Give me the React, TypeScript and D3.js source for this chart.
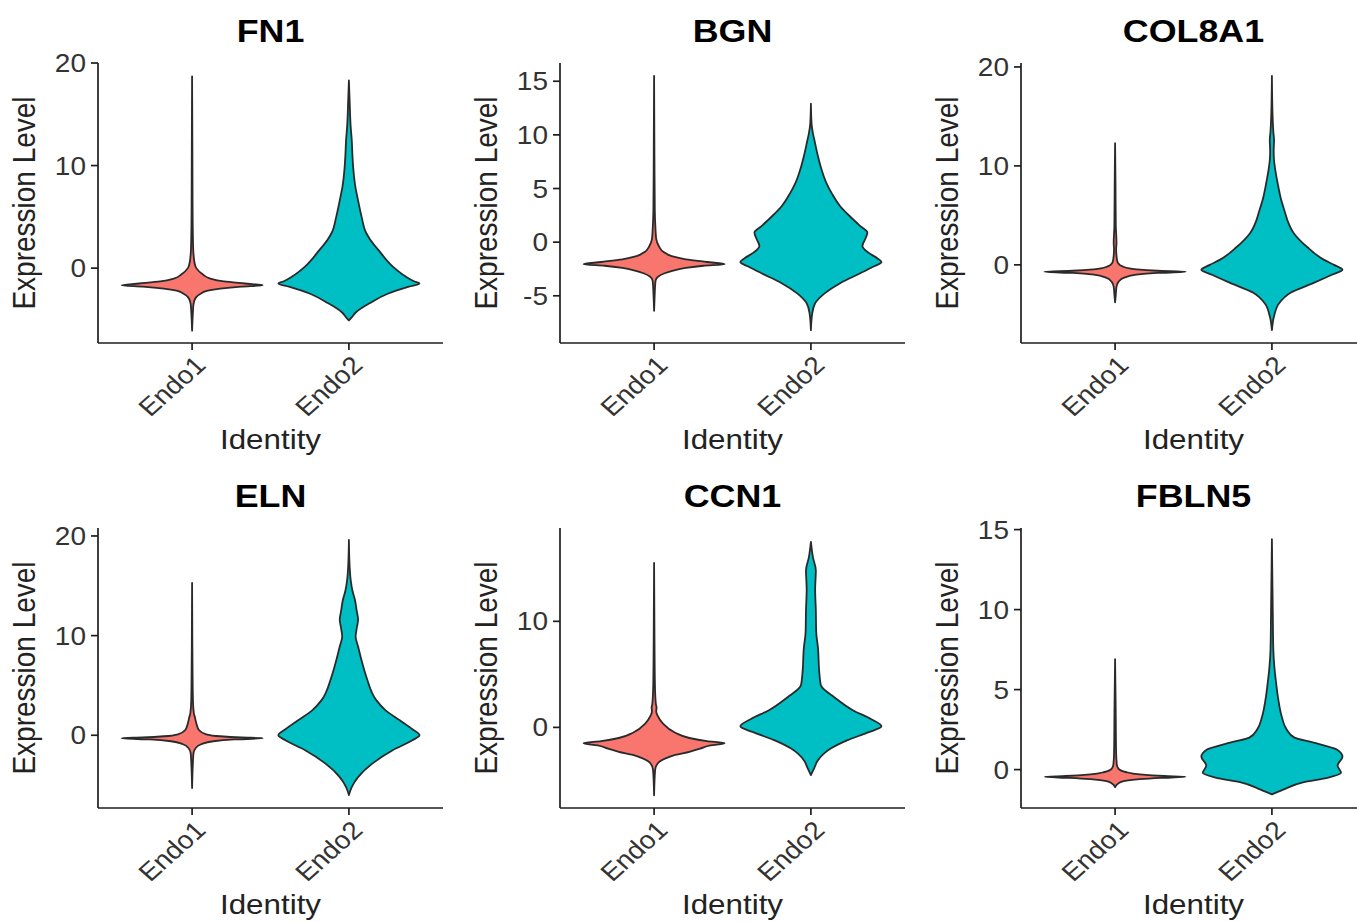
import * as d3 from 'd3';
import React from 'react';

// categories
const groups = ['Endo1', 'Endo2'];
const groupColors = ['#F8766D', '#00BFC4'];
const genes = ['FN1', 'BGN', 'COL8A1', 'ELN', 'CCN1', 'FBLN5'];

// y axis limits and tick values, one entry per gene
const yDomains = [[-7.3, 20], [-9.4, 16.7], [-7.9, 20.4], [-7.3, 20.8], [-7.6, 18.8], [-2.4, 15.1]];
const yTicks = [[0, 10, 20], [-5, 0, 5, 10, 15], [0, 10, 20], [0, 10, 20], [0, 10], [0, 5, 10, 15]];

// violin outlines: [expression, relative half width], top to bottom
const fn1Endo1 = [[18.7, 0], [12, 0.004], [5, 0.008], [2, 0.015], [0.5, 0.035], [0, 0.06], [-0.6, 0.15], [-1.0, 0.25], [-1.3, 0.45], [-1.5, 0.75], [-1.66, 1.0], [-1.8, 0.7], [-2.0, 0.4], [-2.2, 0.22], [-2.5, 0.12], [-2.9, 0.05], [-3.5, 0.02], [-4.5, 0.01], [-6.1, 0]];
const fn1Endo2 = [[18.3, 0], [16.4, 0.01], [13.8, 0.025], [12.5, 0.04], [11, 0.05], [9.9, 0.06], [8, 0.09], [6.6, 0.13], [5, 0.18], [3.5, 0.24], [2.8, 0.3], [1.75, 0.42], [0.1, 0.63], [-0.8, 0.8], [-1.3, 0.93], [-1.5, 1.0], [-1.8, 0.85], [-2.5, 0.55], [-3.4, 0.3], [-4.3, 0.1], [-4.8, 0.04], [-5.1, 0]];
const bgnEndo1 = [[15.5, 0], [8, 0.005], [3, 0.01], [1.2, 0.02], [0.3, 0.03], [-0.4, 0.07], [-0.9, 0.13], [-1.3, 0.25], [-1.6, 0.45], [-1.85, 0.75], [-2.05, 1.0], [-2.2, 0.7], [-2.4, 0.45], [-2.65, 0.27], [-2.9, 0.15], [-3.2, 0.06], [-3.6, 0.02], [-5, 0.008], [-6.4, 0]];
const bgnEndo2 = [[12.9, 0], [11, 0.01], [10.1, 0.03], [9.5, 0.05], [8, 0.1], [7, 0.14], [5.5, 0.22], [4.5, 0.3], [3.3, 0.42], [2.3, 0.57], [1.5, 0.7], [0.9, 0.8], [0.3, 0.77], [-0.35, 0.73], [-1.0, 0.82], [-1.5, 0.94], [-1.85, 1.0], [-2.3, 0.88], [-2.9, 0.7], [-3.8, 0.42], [-4.8, 0.19], [-5.7, 0.06], [-6.6, 0.02], [-8.2, 0]];
const col8a1Endo1 = [[12.3, 0], [8, 0.006], [4, 0.01], [2.2, 0.02], [1.6, 0.015], [0.6, 0.025], [0.2, 0.04], [-0.2, 0.12], [-0.45, 0.3], [-0.6, 0.6], [-0.7, 1.0], [-0.82, 0.6], [-1.0, 0.3], [-1.3, 0.13], [-1.7, 0.05], [-2.2, 0.02], [-3, 0.01], [-3.8, 0]];
const col8a1Endo2 = [[19.1, 0], [15, 0.01], [13.5, 0.02], [12.6, 0.03], [11.5, 0.025], [10.6, 0.03], [9.5, 0.05], [8.3, 0.08], [6.6, 0.13], [5.2, 0.19], [4.5, 0.22], [3.2, 0.31], [1.8, 0.5], [0.5, 0.74], [0, 0.88], [-0.5, 1.0], [-1.0, 0.85], [-1.8, 0.6], [-2.8, 0.27], [-3.9, 0.1], [-5.2, 0.03], [-6.6, 0]];
const elnEndo1 = [[15.3, 0], [8, 0.005], [3.5, 0.012], [2.2, 0.025], [1.8, 0.04], [1.2, 0.06], [0.5, 0.1], [0.1, 0.2], [-0.1, 0.4], [-0.22, 0.7], [-0.3, 1.0], [-0.42, 0.6], [-0.6, 0.3], [-0.9, 0.13], [-1.3, 0.05], [-1.8, 0.02], [-3, 0.01], [-5.3, 0]];
const elnEndo2 = [[19.6, 0], [17, 0.01], [15.6, 0.025], [14.5, 0.05], [13.6, 0.085], [12.5, 0.11], [11.6, 0.13], [10.7, 0.11], [9.9, 0.095], [8.9, 0.13], [7.5, 0.18], [5.8, 0.25], [3.5, 0.39], [2.5, 0.52], [1.5, 0.72], [0.6, 0.9], [0, 1.0], [-0.5, 0.9], [-1.5, 0.62], [-2.8, 0.34], [-4.2, 0.13], [-5.2, 0.04], [-6.0, 0]];
const ccn1Endo1 = [[15.5, 0], [8, 0.006], [4, 0.012], [2.2, 0.025], [1.9, 0.035], [1.5, 0.03], [1.1, 0.05], [0.4, 0.12], [-0.5, 0.3], [-1.0, 0.5], [-1.3, 0.75], [-1.5, 1.0], [-1.7, 0.8], [-2.0, 0.65], [-2.3, 0.5], [-2.6, 0.3], [-2.9, 0.17], [-3.4, 0.05], [-4, 0.015], [-6.4, 0]];
const ccn1Endo2 = [[17.5, 0], [16, 0.03], [14.8, 0.07], [13, 0.06], [11, 0.07], [9, 0.075], [7.5, 0.1], [5.1, 0.12], [4.0, 0.14], [3.5, 0.2], [3.0, 0.3], [1.6, 0.6], [0.8, 0.85], [0.1, 1.0], [-0.5, 0.8], [-1.2, 0.52], [-2.0, 0.28], [-2.5, 0.18], [-3.2, 0.09], [-3.8, 0.05], [-4.5, 0]];
const fbln5Endo1 = [[6.9, 0], [4, 0.008], [1, 0.015], [0.3, 0.025], [0.05, 0.05], [-0.15, 0.15], [-0.3, 0.35], [-0.4, 0.7], [-0.45, 1.0], [-0.52, 0.65], [-0.6, 0.35], [-0.72, 0.12], [-0.85, 0.05], [-1.1, 0]];
const fbln5Endo2 = [[14.4, 0], [10, 0.012], [7.5, 0.02], [6.4, 0.035], [5.4, 0.06], [4.4, 0.09], [3.3, 0.14], [2.5, 0.21], [2.0, 0.32], [1.7, 0.58], [1.25, 0.92], [0.8, 1.0], [0.25, 0.93], [-0.2, 0.98], [-0.5, 0.8], [-0.8, 0.44], [-1.25, 0.16], [-1.55, 0]];

const violins = [
  [fn1Endo1, fn1Endo2],
  [bgnEndo1, bgnEndo2],
  [col8a1Endo1, col8a1Endo2],
  [elnEndo1, elnEndo2],
  [ccn1Endo1, ccn1Endo2],
  [fbln5Endo1, fbln5Endo2],
];

// layout
const colX = [98, 560, 1021];
const rowY = [63, 528];
const W = 345;
const H = 280;
const SX = 1.12; // the picture is a little wider than tall
const font = 'Liberation Sans, Arial, Helvetica, sans-serif';
const ink = '#1e1e1e';

function Panel({ i }: { i: number }) {
  const x0 = colX[i % 3];
  const y0 = rowY[Math.floor(i / 3)];

  const x = d3.scalePoint().domain(groups).range([0, W]).padding(0.6);
  const y = d3.scaleLinear().domain(yDomains[i]).range([H, 0]);
  const hw = x.step() * 0.45;

  return (
    <g transform={`translate(${x0},${y0})`}>
      {violins[i].map((pts, g) => {
        const cx = x(groups[g]) as number;
        const area = d3.area<number[]>()
          .y(d => y(d[0]))
          .x0(d => cx - d[1] * hw)
          .x1(d => cx + d[1] * hw)
          .curve(d3.curveMonotoneY);
        return (
          <path key={g} d={area(pts) || ''} fill={groupColors[g]}
            stroke="#2a2a2a" strokeWidth={1.8} strokeLinejoin="round" />
        );
      })}

      {/* axes */}
      <line x1={0} x2={0} y1={0} y2={H} stroke={ink} strokeWidth={1.7} />
      <line x1={0} x2={W} y1={H} y2={H} stroke={ink} strokeWidth={1.7} />
      {yTicks[i].map(t => (
        <g key={t}>
          <line x1={-7} x2={0} y1={y(t)} y2={y(t)} stroke={ink} strokeWidth={1.7} />
          <text transform={`translate(-12,${y(t)}) scale(${SX},1)`} dy="0.36em" textAnchor="end"
            fontFamily={font} fontSize={25} fill="#333">{t}</text>
        </g>
      ))}
      {groups.map(g => (
        <g key={g}>
          <line x1={x(g)} x2={x(g)} y1={H} y2={H + 7} stroke={ink} strokeWidth={1.7} />
          <text transform={`translate(${(x(g) as number) + 1},${H + 11}) scale(${SX},1) rotate(-45)`}
            dy="0.72em" textAnchor="end" fontFamily={font} fontSize={25} fill="#333">{g}</text>
        </g>
      ))}

      {/* labels */}
      <text transform={`translate(${W / 2},-21) scale(${SX},1)`} textAnchor="middle"
        fontFamily={font} fontSize={32} fontWeight="bold" fill="#000">{genes[i]}</text>
      <text transform={`translate(${W / 2},386) scale(${SX},1)`} textAnchor="middle"
        fontFamily={font} fontSize={28} fill="#222">Identity</text>
      <text transform={`translate(-63,${H / 2}) scale(${SX},1) rotate(-90)`} textAnchor="middle"
        fontFamily={font} fontSize={28} fill="#222">Expression Level</text>
    </g>
  );
}

export default function App() {
  return (
    <svg width={1357} height={922} style={{ position: 'absolute', left: 0, top: 0, background: '#fff' }}>
      <rect width={1357} height={922} fill="#fff" />
      {genes.map((_, i) => <Panel key={i} i={i} />)}
    </svg>
  );
}
